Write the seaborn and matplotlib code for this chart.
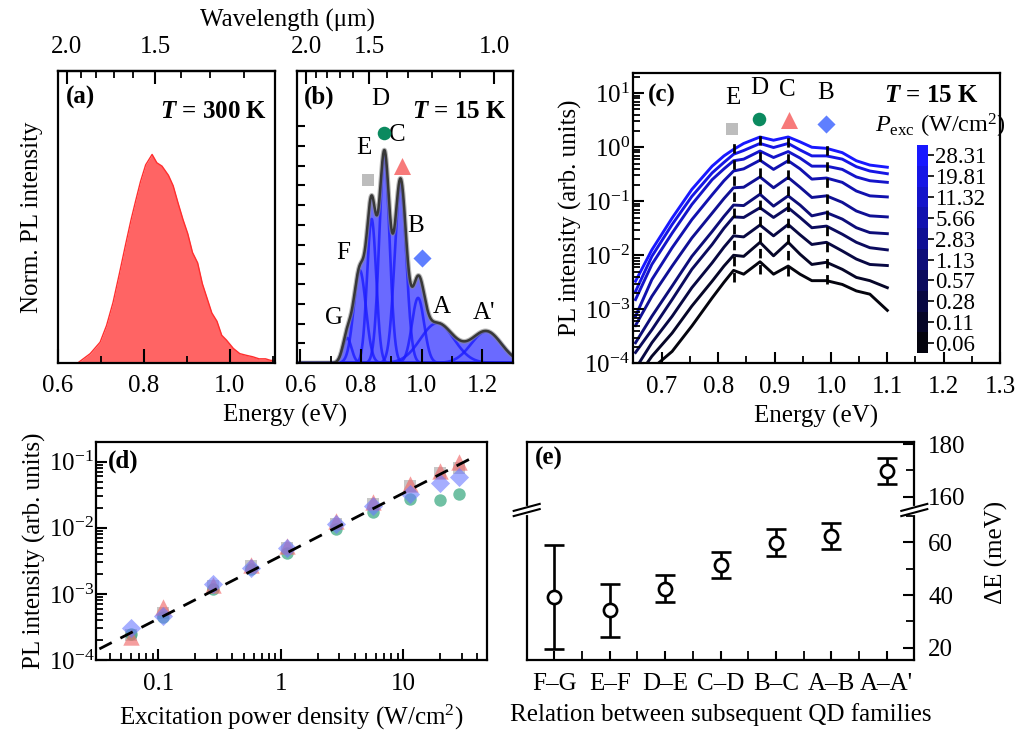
import numpy as np
import pandas as pd
import matplotlib
matplotlib.use("Agg")
import matplotlib.pyplot as plt
import seaborn as sns
from matplotlib.ticker import (FixedLocator, FormatStrFormatter,
                               NullFormatter, NullLocator, FixedFormatter)
from matplotlib.colors import LinearSegmentedColormap, ListedColormap, BoundaryNorm
from matplotlib.cm import ScalarMappable
from matplotlib.lines import Line2D

# ======================= data =======================
# (a) PL spectrum at 300 K (normalised)
a_energy = [0.649, 0.675, 0.698, 0.713, 0.728, 0.743, 0.758, 0.770, 0.781, 0.792,
            0.804, 0.819, 0.830, 0.842, 0.857, 0.868, 0.879, 0.891, 0.902, 0.913,
            0.925, 0.936, 0.947, 0.958, 0.970, 0.981, 0.992, 1.008, 1.023, 1.038,
            1.053, 1.068, 1.083, 1.094, 1.100]
a_intensity = [0.005, 0.045, 0.10, 0.18, 0.29, 0.43, 0.575, 0.687, 0.78, 0.87,
               0.95, 1.0, 0.96, 0.944, 0.90, 0.85, 0.77, 0.687, 0.62, 0.53,
               0.48, 0.38, 0.31, 0.24, 0.20, 0.133, 0.11, 0.07, 0.045, 0.037,
               0.03, 0.02, 0.02, 0.013, 0.012]

# (b) multi-Gaussian fit of 15 K spectrum (QD families)
b_family = ['G', 'F', 'E', 'D', 'C', 'B', 'A', "A'"]
b_center = [0.754, 0.796, 0.835, 0.877, 0.930, 0.988, 1.051, 1.213]
b_height = [1.27, 4.7, 7.3, 10.45, 9.05, 3.3, 2.02, 1.6]
b_width = [0.0145, 0.020, 0.015, 0.017, 0.019, 0.020, 0.055, 0.050]

# (c) power-dependent spectra, log10(PL intensity)
c_power = [28.31, 19.81, 11.32, 5.66, 2.83, 1.13, 0.57, 0.28, 0.11, 0.06]
c_energy = [0.653, 0.682, 0.718, 0.753, 0.789, 0.81, 0.827, 0.845, 0.874, 0.898,
            0.924, 0.945, 0.966, 0.992, 1.02, 1.045, 1.069, 1.10]
pl_28_31 = [-2.48, -1.90, -1.31, -0.78, -0.35, -0.16, -0.04, 0.07, 0.19, 0.13,
            0.19, 0.10, 0.00, -0.02, -0.10, -0.25, -0.33, -0.37]
pl_19_81 = [-2.67, -2.02, -1.43, -0.91, -0.475, -0.28, -0.13, -0.06, 0.07, -0.005,
            0.07, -0.05, -0.16, -0.16, -0.22, -0.36, -0.44, -0.49]
pl_11_32 = [-2.82, -2.17, -1.59, -1.06, -0.60, -0.40, -0.25, -0.22, -0.07, -0.19,
            -0.08, -0.20, -0.35, -0.35, -0.41, -0.55, -0.62, -0.65]
pl_5_66 = [-3.13, -2.45, -1.86, -1.34, -0.88, -0.62, -0.44, -0.40, -0.24, -0.41,
           -0.25, -0.40, -0.59, -0.57, -0.65, -0.81, -0.90, -0.92]
pl_2_83 = [-3.30, -2.76, -2.20, -1.68, -1.22, -0.95, -0.75, -0.74, -0.55, -0.75,
           -0.56, -0.74, -0.93, -0.90, -1.02, -1.18, -1.27, -1.29]
pl_1_13 = [-3.62, -3.13, -2.57, -2.02, -1.56, -1.28, -1.07, -1.08, -0.87, -1.09,
           -0.90, -1.07, -1.27, -1.21, -1.33, -1.49, -1.58, -1.60]
pl_0_57 = [-3.80, -3.38, -2.82, -2.26, -1.80, -1.50, -1.29, -1.30, -1.12, -1.30,
           -1.12, -1.30, -1.49, -1.46, -1.61, -1.76, -1.86, -1.90]
pl_0_28 = [-4.10, -3.62, -3.13, -2.60, -2.14, -1.85, -1.64, -1.66, -1.44, -1.64,
           -1.43, -1.62, -1.80, -1.76, -1.92, -2.07, -2.17, -2.19]
pl_0_11 = [-4.30, -3.87, -3.44, -2.94, -2.48, -2.20, -2.00, -2.02, -1.76, -2.01,
           -1.76, -1.98, -2.17, -2.13, -2.26, -2.41, -2.47, -2.60]
pl_0_06 = [-4.50, -4.10, -3.78, -3.31, -2.79, -2.50, -2.28, -2.35, -2.12, -2.35,
           -2.20, -2.35, -2.47, -2.47, -2.54, -2.66, -2.72, -3.02]
c_peak_energy = [0.828, 0.874, 0.924, 0.993]          # E, D, C, B
c_power_labels = ['0.06', '0.11', '0.28', '0.57', '1.13', '2.83', '5.66',
                  '11.32', '19.81', '28.31']

# (d) integrated PL of families vs excitation power
d_power = [0.06, 0.11, 0.28, 0.57, 1.13, 2.83, 5.66, 11.32, 19.81, 28.31]
d_E = [2.4e-4, 5.2e-4, 1.30e-3, 2.6e-3, 5.0e-3, 1.15e-2, 2.30e-2, 4.3e-2, 6.8e-2, 8.0e-2]
d_D = [2.5e-4, 4.5e-4, 1.20e-3, 2.4e-3, 4.2e-3, 9.5e-3, 1.75e-2, 2.7e-2, 2.6e-2, 3.2e-2]
d_C = [2.2e-4, 6.3e-4, 1.35e-3, 2.75e-3, 5.4e-3, 1.26e-2, 2.5e-2, 4.6e-2, 7.2e-2, 9.8e-2]
d_B = [3.1e-4, 4.6e-4, 1.40e-3, 2.45e-3, 4.9e-3, 1.15e-2, 2.15e-2, 3.3e-2, 4.7e-2, 5.9e-2]
d_fit_exponent = 0.95
d_fit_prefactor = 3.76e-3
d_fit_range = [0.033, 38.0]

# (e) energy spacing between subsequent families
e_pairs = ['F\u2013G', 'E\u2013F', 'D\u2013E', 'C\u2013D', 'B\u2013C', 'A\u2013B', "A\u2013A'"]
e_dE = [39.2, 34.2, 42.4, 51.4, 59.9, 62.3, 169.7]
e_err = [19.9, 10.0, 5.2, 5.0, 5.0, 5.0, 5.0]

# ======================= style =======================
plt.rcParams.update({
    "font.family": ["Liberation Serif", "DejaVu Serif"],
    "font.size": 18,
    "mathtext.fontset": "custom",
    "mathtext.rm": "Liberation Serif",
    "mathtext.it": "Liberation Serif:italic",
    "mathtext.bf": "Liberation Serif:bold",
    "mathtext.bfit": "Liberation Serif:bold:italic",
    "axes.axisbelow": False,
    "axes.linewidth": 1.6,
    "axes.edgecolor": "black",
    "axes.labelcolor": "black",
    "axes.facecolor": "white",
    "axes.grid": False,
    "text.color": "black",
    "xtick.color": "black", "ytick.color": "black",
    "xtick.direction": "in", "ytick.direction": "in",
    "xtick.major.size": 8, "ytick.major.size": 8,
    "xtick.minor.size": 5, "ytick.minor.size": 5,
    "xtick.major.width": 1.5, "ytick.major.width": 1.5,
    "xtick.minor.width": 1.3, "ytick.minor.width": 1.3,
    "xtick.labelsize": 18, "ytick.labelsize": 18,
    "axes.labelsize": 18,
    "xtick.major.pad": 9, "xtick.minor.pad": 9,
})

W, H = 1028, 731
fig = plt.figure(figsize=(W / 100, H / 100), dpi=100)


def rect(l, t, r, b):
    return [l / W, 1 - b / H, (r - l) / W, (b - t) / H]


def pxf(x, y):
    return x / W, 1 - y / H


def ev2um(x):
    x = np.asarray(x, dtype=float)
    with np.errstate(divide="ignore", invalid="ignore"):
        return np.where(x > 0, 1.23984 / np.where(x > 0, x, 1), np.inf)


def add_wavelength_axis(ax):
    sec = ax.secondary_xaxis("top", functions=(ev2um, ev2um))
    sec.xaxis.set_major_locator(FixedLocator([2.0, 1.5, 1.0]))
    sec.xaxis.set_minor_locator(FixedLocator([1.1, 1.2, 1.3, 1.4, 1.6, 1.7, 1.8, 1.9, 2.1]))
    sec.xaxis.set_major_formatter(FormatStrFormatter("%.1f"))
    sec.tick_params(which="both", direction="in", pad=9)
    sec.tick_params(which="major", length=9)
    sec.tick_params(which="minor", length=5)
    return sec


def ticks_in(ax, minor_len=5):
    ax.set_axisbelow(False)
    ax.tick_params(which="both", direction="in", color="black")
    ax.tick_params(which="minor", length=minor_len)


bold_T = dict(fontsize=18, fontweight="bold")

# ======================= (a) =======================
ax_a = fig.add_axes(rect(58, 71, 275, 363))
ax_a.fill_between(a_energy, 0, a_intensity, color="#ff6464", lw=0, zorder=1)
sns.lineplot(x=a_energy, y=a_intensity, ax=ax_a, color="#ff2e2e", lw=1.0, zorder=2)
ax_a.set_xlim(0.6, 1.105)
ax_a.set_ylim(0, 1.40)
ax_a.xaxis.set_major_locator(FixedLocator([0.6, 0.8, 1.0]))
ax_a.xaxis.set_minor_locator(FixedLocator([0.7, 0.9, 1.1]))
ax_a.xaxis.set_major_formatter(FormatStrFormatter("%.1f"))
ax_a.yaxis.set_major_locator(NullLocator())
ticks_in(ax_a)
ax_a.tick_params(which="major", length=10)
ax_a.set_ylabel("Norm. PL intensity", labelpad=11)
ax_a.set_xlabel("")
add_wavelength_axis(ax_a)
ax_a.text(0.035, 0.91, "(a)", transform=ax_a.transAxes, ha="left", va="center",
          fontsize=18, fontweight="bold")
ax_a.text(0.965, 0.862, r"$\mathbfit{T}$ = 300 K", transform=ax_a.transAxes,
          ha="right", va="center", **bold_T)

# ======================= (b) =======================
ax_b = fig.add_axes(rect(297, 71, 513, 363))
eb = np.linspace(0.59, 1.31, 800)
comps = [h * np.exp(-0.5 * ((eb - c) / w) ** 2)
         for c, h, w in zip(b_center, b_height, b_width)]
envelope = np.sum(comps, axis=0)
ax_b.fill_between(eb, 0, envelope, color="#6a6aff", lw=0, zorder=1)
for comp in comps:
    ax_b.plot(eb, comp, color="#1c1cff", lw=1.9, alpha=0.8, zorder=2)
ax_b.plot(eb, envelope, color="#8a8a8a", lw=3.4, alpha=0.6, zorder=2)
sns.lineplot(x=eb, y=envelope, ax=ax_b, color="#383838", lw=1.8, zorder=2)
ax_b.set_xlim(0.589, 1.301)
ax_b.set_ylim(0, 14.8)
ax_b.xaxis.set_major_locator(FixedLocator([0.6, 0.8, 1.0, 1.2]))
ax_b.xaxis.set_minor_locator(FixedLocator([0.7, 0.9, 1.1, 1.3]))
ax_b.xaxis.set_major_formatter(FormatStrFormatter("%.1f"))
ax_b.yaxis.set_major_locator(FixedLocator(np.arange(1, 13)))
ax_b.yaxis.set_major_formatter(NullFormatter())
ticks_in(ax_b)
ax_b.tick_params(axis="x", which="major", length=10)
ax_b.tick_params(axis="y", which="major", length=6)
ax_b.set_xlabel("")
add_wavelength_axis(ax_b)
ax_b.text(0.03, 0.91, "(b)", transform=ax_b.transAxes, ha="left", va="center",
          fontsize=18, fontweight="bold")
ax_b.text(0.972, 0.862, r"$\mathbfit{T}$ = 15 K", transform=ax_b.transAxes,
          ha="right", va="center", **bold_T)
b_label_pos = {'G': (0.712, 2.3), 'F': (0.741, 5.57), 'E': (0.808, 10.9),
               'D': (0.863, 13.37), 'C': (0.921, 11.56), 'B': (0.980, 6.94),
               'A': (1.066, 2.82), "A'": (1.206, 2.52)}
for fam in b_family:
    x, y = b_label_pos[fam]
    ax_b.text(x, y, fam, ha="center", va="center", fontsize=18, zorder=6)
sns.scatterplot(x=[0.822], y=[9.3], marker="s", s=85, color="#bdbdbd", linewidth=0, ax=ax_b, zorder=6)
sns.scatterplot(x=[0.877], y=[11.64], marker="o", s=95, color="#0b8a5f", linewidth=0, ax=ax_b, zorder=6)
sns.scatterplot(x=[0.936], y=[9.98], marker="^", s=150, color="#f77a7a", linewidth=0, ax=ax_b, zorder=6)
sns.scatterplot(x=[1.002], y=[5.34], marker="D", s=85, color="#5f7fff", linewidth=0, ax=ax_b, zorder=6)

fig.text(*pxf(288, 20), "Wavelength (\u03bcm)", ha="center", va="center", fontsize=18)
fig.text(*pxf(285, 415), "Energy (eV)", ha="center", va="center", fontsize=18)

# ======================= (c) =======================
ax_c = fig.add_axes(rect(632.7, 72.7, 1000, 363.3))
cmap_p = LinearSegmentedColormap.from_list("pexc", ["#04040e", "#1818ff"])
pow_sorted = sorted(c_power)
pcolors = {p: cmap_p(i / 9) for i, p in enumerate(pow_sorted)}
c_rows = [pl_28_31, pl_19_81, pl_11_32, pl_5_66, pl_2_83, pl_1_13, pl_0_57,
          pl_0_28, pl_0_11, pl_0_06]
frames = []
for p, row in zip(c_power, c_rows):
    frames.append(pd.DataFrame({"E": c_energy, "I": 10 ** np.asarray(row), "P": p}))
df_c = pd.concat(frames, ignore_index=True)
sns.lineplot(data=df_c, x="E", y="I", hue="P", palette=pcolors, lw=2.1,
             legend=False, ax=ax_c, estimator=None)
dash_top = [1.41, 2.0, 1.95, 1.27]
dash_bot = [3.2e-3, 4.5e-3, 4.2e-3, 2.9e-3]
for xe, yt, yb in zip(c_peak_energy, dash_top, dash_bot):
    ax_c.plot([xe, xe], [yb, yt], color="black", lw=2.0, ls=(0, (3.4, 2.4)), zorder=5)
sns.scatterplot(x=[0.825], y=[2.19], marker="s", s=85, color="#bdbdbd", linewidth=0, ax=ax_c, zorder=6)
sns.scatterplot(x=[0.872], y=[3.36], marker="o", s=95, color="#0b8a5f", linewidth=0, ax=ax_c, zorder=6)
sns.scatterplot(x=[0.925], y=[3.26], marker="^", s=150, color="#f77a7a", linewidth=0, ax=ax_c, zorder=6)
sns.scatterplot(x=[0.992], y=[2.71], marker="D", s=85, color="#5f7fff", linewidth=0, ax=ax_c, zorder=6)
ax_c.set_yscale("log")
ax_c.set_xlim(0.648, 1.3)
ax_c.set_ylim(1e-4, 24)
ax_c.xaxis.set_major_locator(FixedLocator([0.7, 0.8, 0.9, 1.0, 1.1, 1.2, 1.3]))
ax_c.xaxis.set_minor_locator(FixedLocator([0.75, 0.85, 0.95, 1.05, 1.15, 1.25]))
ax_c.xaxis.set_major_formatter(FormatStrFormatter("%.1f"))
c_minor_y = [m * 10.0 ** k for k in range(-4, 2) for m in range(2, 10)]
ax_c.yaxis.set_major_locator(FixedLocator([1e-4, 1e-3, 1e-2, 1e-1, 1, 10]))
ax_c.yaxis.set_minor_locator(FixedLocator(c_minor_y))
ax_c.yaxis.set_minor_formatter(NullFormatter())
ticks_in(ax_c)
ax_c.tick_params(axis="y", which="major", pad=2)
ax_c.set_xlabel("Energy (eV)", labelpad=5)
ax_c.set_ylabel("PL intensity (arb. units)", labelpad=2)
for lab, x, y in [("E", 0.825, 8.3), ("D", 0.873, 12.3), ("C", 0.923, 11.6), ("B", 0.991, 10.3)]:
    ax_c.text(x, y, lab, ha="center", va="center", fontsize=18)
ax_c.text(0.042, 0.923, "(c)", transform=ax_c.transAxes, ha="left", va="center",
          fontsize=18, fontweight="bold")
ax_c.text(0.94, 0.923, r"$\mathbfit{T}$ = 15 K", transform=ax_c.transAxes,
          ha="right", va="center", **bold_T)
ax_c.text((940 - 632.7) / 367.3, (363.3 - 126) / 290.6,
          r"$P_{\mathrm{exc}}$ (W/cm$^2$)", transform=ax_c.transAxes,
          ha="center", va="center", fontsize=17.5)
cax = fig.add_axes(rect(916.7, 145, 927.7, 353.3))
cb_cmap = ListedColormap([pcolors[p] for p in pow_sorted])
cb_norm = BoundaryNorm(np.arange(11), 10)
cb = fig.colorbar(ScalarMappable(norm=cb_norm, cmap=cb_cmap), cax=cax,
                  ticks=np.arange(10) + 0.5)
cb.set_ticklabels(c_power_labels)
cb.ax.tick_params(direction="out", length=4, width=1.2, labelsize=16.5, pad=1.5)
cb.ax.minorticks_off()
cb.outline.set_visible(False)

# ======================= (d) =======================
ax_d = fig.add_axes(rect(95.7, 442.3, 487.3, 660))
fit_x = np.asarray(d_fit_range)
ax_d.plot(fit_x, d_fit_prefactor * fit_x ** d_fit_exponent, color="black", lw=2.0,
          ls=(0, (5, 3.5)), zorder=5)
sns.scatterplot(x=d_power, y=d_E, marker="s", s=70, color="#b0b0b0", alpha=0.7, linewidth=0, ax=ax_d, zorder=3)
sns.scatterplot(x=d_power, y=d_D, marker="o", s=80, color="#239e72", alpha=0.65, linewidth=0, ax=ax_d, zorder=3)
sns.scatterplot(x=d_power, y=d_C, marker="^", s=140, color="#f06a6a", alpha=0.65, linewidth=0, ax=ax_d, zorder=3)
sns.scatterplot(x=d_power, y=d_B, marker="D", s=95, color="#6a78ff", alpha=0.6, linewidth=0, ax=ax_d, zorder=3)
ax_d.set_xscale("log")
ax_d.set_yscale("log")
ax_d.set_xlim(0.0308, 48.5)
ax_d.set_ylim(1e-4, 0.197)
d_minor_x = [m * 10.0 ** k for k in range(-2, 2) for m in range(2, 10)]
d_minor_y = [m * 10.0 ** k for k in range(-4, 0) for m in range(2, 10)]
ax_d.xaxis.set_major_locator(FixedLocator([0.1, 1, 10]))
ax_d.xaxis.set_major_formatter(FixedFormatter(["0.1", "1", "10"]))
ax_d.xaxis.set_minor_locator(FixedLocator(d_minor_x))
ax_d.xaxis.set_minor_formatter(NullFormatter())
ax_d.yaxis.set_major_locator(FixedLocator([1e-4, 1e-3, 1e-2, 1e-1]))
ax_d.yaxis.set_minor_locator(FixedLocator(d_minor_y))
ax_d.yaxis.set_minor_formatter(NullFormatter())
ticks_in(ax_d)
ax_d.tick_params(axis="y", which="major", pad=1)
ax_d.set_xlabel("Excitation power density (W/cm$^2$)", labelpad=6)
ax_d.set_ylabel("PL intensity (arb. units)", labelpad=2)
ax_d.text(0.031, 0.914, "(d)", transform=ax_d.transAxes, ha="left", va="center",
          fontsize=18, fontweight="bold")

# ======================= (e) =======================
ax_lo = fig.add_axes(rect(526.7, 510, 914.3, 660))
ax_hi = fig.add_axes(rect(526.7, 442.3, 914.3, 510))
xpos = np.arange(len(e_pairs))
for ax in (ax_lo, ax_hi):
    ax.errorbar(xpos, e_dE, yerr=e_err, fmt="none", ecolor="black", elinewidth=1.9,
                capsize=7, capthick=1.9, zorder=2)
    sns.scatterplot(x=xpos, y=e_dE, marker="o", s=90, facecolor="white",
                    edgecolor="black", linewidth=1.9, ax=ax, zorder=3)
    ax.set_xlim(-0.5, 6.5)
    ticks_in(ax, minor_len=5.5)
    ax.yaxis.tick_right()
    ax.yaxis.set_label_position("right")
    ax.tick_params(axis="y", which="both", right=True, left=False, labelright=True,
                   labelleft=False, pad=10, direction="in")
    ax.set_xlabel("")
    ax.set_ylabel("")
ax_lo.set_ylim(15.3, 72.3)
ax_hi.set_ylim(154.95, 180.65)
ax_lo.spines["top"].set_visible(False)
ax_hi.spines["bottom"].set_visible(False)
ax_lo.yaxis.set_major_locator(FixedLocator([20, 40, 60]))
ax_lo.yaxis.set_minor_locator(FixedLocator([30, 50, 70]))
ax_hi.yaxis.set_major_locator(FixedLocator([160, 180]))
ax_hi.yaxis.set_minor_locator(FixedLocator([170]))
ax_lo.xaxis.set_major_locator(FixedLocator(xpos))
ax_lo.xaxis.set_major_formatter(FixedFormatter(e_pairs))
ax_lo.xaxis.set_minor_locator(FixedLocator(xpos[:-1] + 0.5))
ax_lo.tick_params(axis="x", which="both", length=6.5, top=False, bottom=True)
ax_hi.xaxis.set_major_locator(NullLocator())
ax_hi.xaxis.set_minor_locator(NullLocator())
ax_lo.set_xlabel("Relation between subsequent QD families", labelpad=6)
ax_hi.text(0.022, 0.76, "(e)", transform=ax_hi.transAxes, ha="left", va="center",
           fontsize=18, fontweight="bold")
fig.text(*pxf(996, 552), "\u0394E (meV)", rotation=90, ha="center", va="center", fontsize=18)

# break marks
for xs in (526.7, 914.3):
    gx0, gy0 = pxf(xs, 507.5)
    gx1, gy1 = pxf(xs, 512.5)
    fig.add_artist(Line2D([gx0, gx1], [gy0, gy1], color="white", lw=3.0,
                          transform=fig.transFigure, zorder=10))
    for dy in (-2.6, 2.6):
        x0, y0 = pxf(xs - 13, 513.5 + dy)
        x1, y1 = pxf(xs + 13, 506.5 + dy)
        fig.add_artist(Line2D([x0, x1], [y0, y1], color="black", lw=1.5,
                              transform=fig.transFigure, zorder=11))

fig.savefig("out.png", dpi=100)
